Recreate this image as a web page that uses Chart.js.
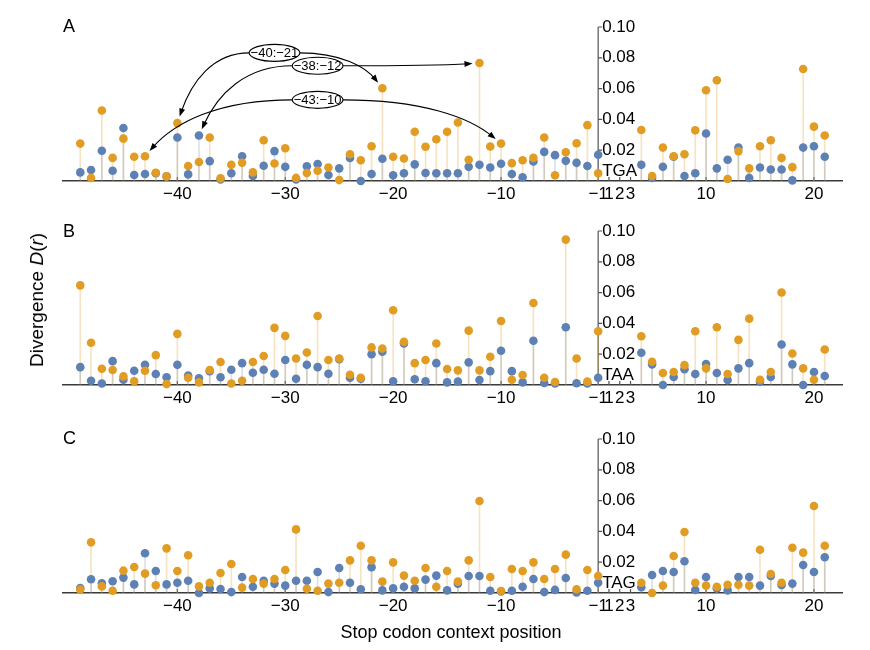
<!DOCTYPE html>
<html lang="en">
<head>
<meta charset="UTF-8">
<title>Stop codon context divergence</title>
<script src="https://cdn.jsdelivr.net/npm/chart.js@4.4.1/dist/chart.umd.min.js"></script>
<style>
  body { margin: 0; background: #fff; font-family: "Liberation Sans", Arial, Helvetica, sans-serif; }
  #wrap { position: relative; width: 870px; height: 650px; overflow: hidden; }
  #wrap canvas { position: absolute; left: 0; }
  .tag { position: absolute; left: 63px; font-size: 18px; line-height: 18px; }
  .ytitle { position: absolute; left: 37px; top: 300px; transform: translate(-50%, -50%) rotate(-90deg); font-size: 19px; white-space: nowrap; }
  .xtitle { position: absolute; left: 451px; top: 632px; transform: translate(-50%, -50%); font-size: 18px; white-space: nowrap; }
</style>
</head>
<body>
<div id="wrap">
  <canvas id="panelA" width="870" height="211" style="top:0"></canvas>
  <canvas id="panelB" width="870" height="211" style="top:204px"></canvas>
  <canvas id="panelC" width="870" height="211" style="top:412px"></canvas>
  <div class="tag" style="top:17px">A</div>
  <div class="tag" style="top:222px">B</div>
  <div class="tag" style="top:429px">C</div>
  <div class="ytitle">Divergence <i>D</i>(<i>r</i>)</div>
  <div class="xtitle">Stop codon context position</div>
</div>

<script>
  // context positions around the stop codon (1..3 is the codon itself)
  const positions = [-49, -48, -47, -46, -45, -44, -43, -42, -41, -40,
    -39, -38, -37, -36, -35, -34, -33, -32, -31, -30,
    -29, -28, -27, -26, -25, -24, -23, -22, -21, -20,
    -19, -18, -17, -16, -15, -14, -13, -12, -11, -10,
    -9, -8, -7, -6, -5, -4, -3, -2, -1,
    4, 5, 6, 7, 8, 9, 10, 11, 12, 13,
    14, 15, 16, 17, 18, 19, 20, 21];

  const tgaOrange = [0.0243, 0.0020, 0.0458, 0.0150, 0.0275, 0.0157, 0.0161, 0.0054, 0.0030, 0.0376,
    0.0097, 0.0123, 0.0282, 0.0017, 0.0105, 0.0118, 0.0056, 0.0265, 0.0114, 0.0213,
    0.0020, 0.0052, 0.0067, 0.0088, 0.0006, 0.0174, 0.0135, 0.0226, 0.0602, 0.0157,
    0.0146, 0.0320, 0.0222, 0.0271, 0.0320, 0.0380, 0.0138, 0.0766, 0.0224, 0.0243,
    0.0116, 0.0135, 0.0150, 0.0282, 0.0037, 0.0187, 0.0245, 0.0363, 0.0050,
    0.0331, 0.0032, 0.0217, 0.0161, 0.0174, 0.0329, 0.0589, 0.0654, 0.0013, 0.0194,
    0.0082, 0.0226, 0.0265, 0.0150, 0.0090, 0.0727, 0.0353, 0.0295];
  const tgaBlue = [0.0056, 0.0071, 0.0196, 0.0067, 0.0344, 0.0039, 0.0045, 0.0050, 0.0030, 0.0282,
    0.0043, 0.0295, 0.0129, 0.0010, 0.0050, 0.0161, 0.0032, 0.0099, 0.0194, 0.0092,
    0.0010, 0.0095, 0.0110, 0.0039, 0.0082, 0.0150, 0.0000, 0.0045, 0.0144, 0.0037,
    0.0050, 0.0108, 0.0052, 0.0050, 0.0050, 0.0050, 0.0092, 0.0105, 0.0088, 0.0112,
    0.0045, 0.0024, 0.0127, 0.0189, 0.0168, 0.0131, 0.0118, 0.0097, 0.0170,
    0.0105, 0.0020, 0.0092, 0.0157, 0.0032, 0.0050, 0.0308, 0.0082, 0.0138, 0.0217,
    0.0020, 0.0088, 0.0075, 0.0075, 0.0004, 0.0217, 0.0226, 0.0157];

  const taaOrange = [0.0647, 0.0274, 0.0106, 0.0097, 0.0056, 0.0024, 0.0093, 0.0194, 0.0006, 0.0332,
    0.0047, 0.0017, 0.0097, 0.0149, 0.0010, 0.0028, 0.0149, 0.0188, 0.0371, 0.0319,
    0.0172, 0.0211, 0.0448, 0.0162, 0.0172, 0.0067, 0.0047, 0.0244, 0.0237, 0.0485,
    0.0280, 0.0142, 0.0162, 0.0269, 0.0104, 0.0095, 0.0353, 0.0095, 0.0183, 0.0416,
    0.0034, 0.0065, 0.0532, 0.0047, 0.0019, 0.0944, 0.0172, 0.0022, 0.0349,
    0.0317, 0.0151, 0.0078, 0.0084, 0.0129, 0.0349, 0.0108, 0.0375, 0.0071, 0.0293,
    0.0431, 0.0034, 0.0084, 0.0601, 0.0205, 0.0108, 0.0034, 0.0231];
  const taaBlue = [0.0116, 0.0028, 0.0010, 0.0155, 0.0034, 0.0093, 0.0131, 0.0071, 0.0050, 0.0131,
    0.0062, 0.0043, 0.0090, 0.0050, 0.0099, 0.0142, 0.0080, 0.0099, 0.0073, 0.0162,
    0.0041, 0.0131, 0.0116, 0.0073, 0.0168, 0.0047, 0.0041, 0.0200, 0.0216, 0.0024,
    0.0269, 0.0037, 0.0024, 0.0142, 0.0017, 0.0022, 0.0147, 0.0032, 0.0090, 0.0222,
    0.0090, 0.0017, 0.0287, 0.0013, 0.0010, 0.0375, 0.0011, 0.0010, 0.0047,
    0.0209, 0.0134, 0.0000, 0.0052, 0.0103, 0.0071, 0.0136, 0.0078, 0.0032, 0.0108,
    0.0142, 0.0022, 0.0052, 0.0263, 0.0134, 0.0000, 0.0084, 0.0058];

  const tagOrange = [0.0022, 0.0329, 0.0043, 0.0015, 0.0145, 0.0169, 0.0126, 0.0050, 0.0290, 0.0143,
    0.0245, 0.0043, 0.0067, 0.0130, 0.0188, 0.0035, 0.0091, 0.0061, 0.0091, 0.0149,
    0.0413, 0.0028, 0.0015, 0.0061, 0.0067, 0.0212, 0.0307, 0.0212, 0.0074, 0.0199,
    0.0113, 0.0080, 0.0162, 0.0041, 0.0143, 0.0074, 0.0212, 0.0597, 0.0104, 0.0013,
    0.0156, 0.0143, 0.0199, 0.0091, 0.0156, 0.0249, 0.0024, 0.0149, 0.0110,
    0.0067, 0.0000, 0.0048, 0.0240, 0.0396, 0.0067, 0.0048, 0.0041, 0.0054, 0.0054,
    0.0048, 0.0281, 0.0123, 0.0067, 0.0294, 0.0262, 0.0565, 0.0307];
  const tagBlue = [0.0032, 0.0089, 0.0063, 0.0076, 0.0100, 0.0056, 0.0258, 0.0143, 0.0056, 0.0067,
    0.0080, 0.0000, 0.0030, 0.0026, 0.0006, 0.0104, 0.0041, 0.0080, 0.0061, 0.0048,
    0.0080, 0.0080, 0.0136, 0.0006, 0.0162, 0.0067, 0.0024, 0.0167, 0.0017, 0.0030,
    0.0041, 0.0030, 0.0087, 0.0113, 0.0017, 0.0060, 0.0110, 0.0110, 0.0015, 0.0010,
    0.0015, 0.0041, 0.0091, 0.0006, 0.0020, 0.0097, 0.0004, 0.0015, 0.0067,
    0.0037, 0.0117, 0.0143, 0.0136, 0.0206, 0.0020, 0.0104, 0.0030, 0.0017, 0.0104,
    0.0104, 0.0048, 0.0110, 0.0052, 0.0061, 0.0182, 0.0136, 0.0232];

  const xTickPositions = [-40, -30, -20, -10, -1, 1, 2, 3, 10, 20];
  const yTicks = [0.02, 0.04, 0.06, 0.08, 0.10];

  // linked position pairs marked in panel A
  const tgaLinks = [[-40, -21], [-38, -12], [-43, -10]];

  const FONT = '"Liberation Sans", Arial, Helvetica, sans-serif';
  const BLUE = '#5E81B5';
  const ORANGE = '#E19C24';

  // where each link label sits (axis units)
  const linkSpots = {
    '-40:-21': { x: -31.0, y: 0.0832 },
    '-38:-12': { x: -27.0, y: 0.0748 },
    '-43:-10': { x: -27.0, y: 0.0527 }
  };

  Chart.defaults.font.family = FONT;

  // positions skip 0, so the codon 1,2,3 follows -1 directly
  function axisIndex(p) { return p < 0 ? p : p - 1; }
  function fmtPos(p) { return String(p).replace('-', '\u2212'); }

  function drawLinks(chart, links, blue, orange) {
    const { ctx, scales: { x, y } } = chart;
    ctx.save();
    ctx.font = '13px ' + FONT;
    ctx.textAlign = 'center';
    ctx.textBaseline = 'middle';
    links.forEach(([a, b]) => {
      const text = fmtPos(a) + ':' + fmtPos(b);
      const spot = linkSpots[a + ':' + b];
      const cx = x.getPixelForValue(spot.x);
      const cy = y.getPixelForValue(spot.y);
      const rx = ctx.measureText(text).width / 2 + 1.5;
      const ry = 8.5;
      [[a, -1], [b, 1]].forEach(([p, side]) => {
        const i = positions.indexOf(p);
        const mx = x.getPixelForValue(axisIndex(p));
        const my = y.getPixelForValue(Math.max(blue[i], orange[i]));
        const sx = cx + side * rx, sy = cy;
        const dx = mx - sx, dy = my - sy;
        const c1x = sx + 0.5 * dx, c1y = sy;
        const c2x = mx - 0.2 * dx, c2y = my - 0.6 * dy;
        let ux = mx - c2x, uy = my - c2y;
        const len = Math.hypot(ux, uy);
        ux /= len; uy /= len;
        const tx = mx - ux * 7, ty = my - uy * 7;
        ctx.strokeStyle = '#000';
        ctx.lineWidth = 1.1;
        ctx.beginPath();
        ctx.moveTo(sx, sy);
        ctx.bezierCurveTo(c1x, c1y, c2x, c2y, tx - ux * 4, ty - uy * 4);
        ctx.stroke();
        ctx.beginPath();
        ctx.moveTo(tx, ty);
        ctx.lineTo(tx - ux * 8 - uy * 3, ty - uy * 8 + ux * 3);
        ctx.lineTo(tx - ux * 8 + uy * 3, ty - uy * 8 - ux * 3);
        ctx.closePath();
        ctx.fillStyle = '#000';
        ctx.fill();
      });
      ctx.beginPath();
      ctx.ellipse(cx, cy, rx, ry, 0, 0, Math.PI * 2);
      ctx.fillStyle = '#fff';
      ctx.fill();
      ctx.lineWidth = 1.1;
      ctx.stroke();
      ctx.fillStyle = '#000';
      ctx.fillText(text, cx, cy + 0.5);
    });
    ctx.restore();
  }

  // vertical axis at the stop codon, codon label and link arrows
  function stopAxis(codon, blue, orange, links) {
    return {
      id: 'stopAxis',
      beforeDatasetsDraw(chart) {
        const { ctx, scales: { x, y } } = chart;
        const ax = x.getPixelForValue(axisIndex(-1));
        const y0 = y.getPixelForValue(0);
        ctx.save();
        ctx.strokeStyle = '#555';
        ctx.lineWidth = 1.2;
        ctx.beginPath();
        ctx.moveTo(ax, y0);
        ctx.lineTo(ax, y.getPixelForValue(yTicks[yTicks.length - 1]));
        yTicks.forEach(v => {
          const py = y.getPixelForValue(v);
          ctx.moveTo(ax, py);
          ctx.lineTo(ax + 4, py);
        });
        xTickPositions.forEach(p => {
          const px = x.getPixelForValue(axisIndex(p));
          ctx.moveTo(px, y0);
          ctx.lineTo(px, y0 - 4);
        });
        ctx.stroke();
        ctx.restore();
      },
      afterDatasetsDraw(chart) {
        const { ctx, scales: { x, y } } = chart;
        const ax = x.getPixelForValue(axisIndex(-1));
        ctx.save();
        ctx.font = '17px ' + FONT;
        ctx.fillStyle = '#000';
        ctx.textAlign = 'left';
        ctx.textBaseline = 'middle';
        yTicks.forEach(v => ctx.fillText(v.toFixed(2), ax + 4, y.getPixelForValue(v)));
        ctx.fillText(codon, ax + 4, y.getPixelForValue(0) - 10);
        ctx.restore();
        if (links.length) drawLinks(chart, links, blue, orange);
      }
    };
  }

  function makePanel(id, codon, blue, orange, links) {
    const pts = vals => positions.map((p, i) => ({ x: axisIndex(p), y: vals[i] }));
    new Chart(document.getElementById(id), {
      type: 'scatter',
      data: {
        datasets: [
          { type: 'scatter', data: pts(orange), pointRadius: 4.3, pointBackgroundColor: ORANGE,
            pointBorderWidth: 0, order: 0, clip: false },
          { type: 'scatter', data: pts(blue), pointRadius: 4.3, pointBackgroundColor: BLUE,
            pointBorderWidth: 0, order: 1, clip: false },
          { type: 'bar', data: pts(blue), backgroundColor: 'rgba(94,129,181,0.24)',
            barThickness: 1, grouped: false, borderWidth: 0, order: 2 },
          { type: 'bar', data: pts(orange), backgroundColor: 'rgba(225,156,36,0.28)',
            barThickness: 1, grouped: false, borderWidth: 0, order: 3 }
        ]
      },
      options: {
        responsive: false,
        animation: false,
        events: [],
        layout: { padding: { left: 63, right: 28, top: 27, bottom: 0 } },
        plugins: { legend: { display: false }, tooltip: { enabled: false } },
        scales: {
          x: {
            type: 'linear', min: -50.6, max: 21.6, offset: false,
            afterBuildTicks: s => { s.ticks = xTickPositions.map(p => ({ value: axisIndex(p) })); },
            afterFit: s => { s.height = 30; },
            grid: { display: false, drawTicks: false },
            border: { display: true, color: '#3a3a3a', width: 1.6 },
            ticks: {
              autoSkip: false, maxRotation: 0, padding: 3, color: '#000',
              font: { size: 17 },
              callback: (v, i) => fmtPos(xTickPositions[i])
            }
          },
          y: { display: false, min: 0, max: 0.10 }
        }
      },
      plugins: [stopAxis(codon, blue, orange, links)]
    });
  }

  makePanel('panelA', 'TGA', tgaBlue, tgaOrange, tgaLinks);
  makePanel('panelB', 'TAA', taaBlue, taaOrange, []);
  makePanel('panelC', 'TAG', tagBlue, tagOrange, []);
</script>
</body>
</html>
